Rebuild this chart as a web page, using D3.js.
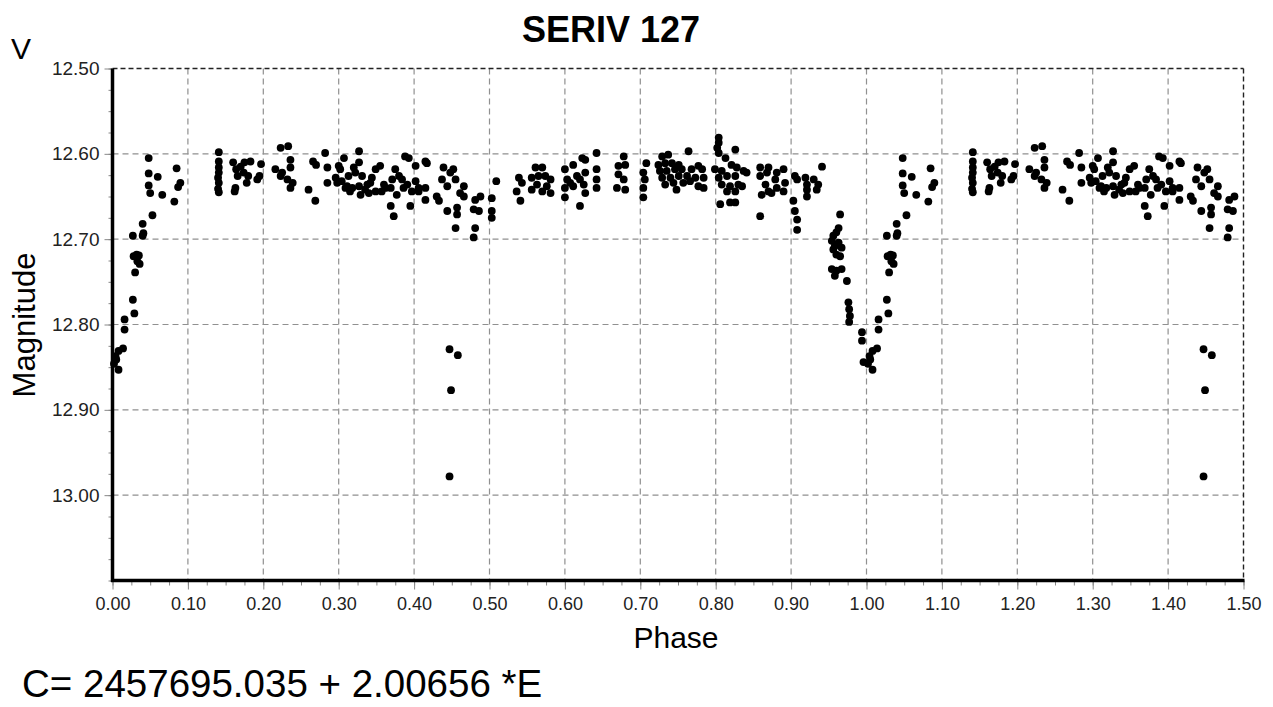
<!DOCTYPE html>
<html>
<head>
<meta charset="utf-8">
<script src="https://cdnjs.cloudflare.com/ajax/libs/d3/7.8.5/d3.min.js"></script>
<style>
  body { margin: 0; background: #fff; }
  svg { display: block; font-family: "Liberation Sans", Arial, sans-serif; }
</style>
</head>
<body>
<svg width="1273" height="707"></svg>
<script>
// observations, phase 0..1 : [phase, V mag]
const obs = [
  [0.004,12.837],[0.008,12.831],[0.014,12.828],[0.005,12.841],[0.008,12.853],[0.002,12.846],
  [0.016,12.794],[0.016,12.806],[0.027,12.771],[0.029,12.787],
  [0.027,12.696],[0.040,12.696],[0.041,12.693],[0.040,12.682],[0.053,12.672],
  [0.028,12.720],[0.032,12.718],[0.035,12.719],[0.033,12.726],[0.036,12.729],[0.030,12.739],
  [0.048,12.605],[0.048,12.623],[0.060,12.627],[0.048,12.637],[0.050,12.646],[0.066,12.648],
  [0.082,12.656],[0.085,12.617],[0.090,12.634],[0.087,12.639],
  [0.141,12.598],[0.141,12.609],[0.141,12.616],[0.141,12.622],[0.140,12.628],[0.141,12.634],[0.140,12.641],[0.141,12.645],
  [0.160,12.610],[0.164,12.618],[0.170,12.615],[0.175,12.610],[0.183,12.609],[0.197,12.612],[0.166,12.626],
  [0.174,12.622],[0.180,12.626],[0.195,12.626],[0.163,12.640],[0.178,12.634],[0.192,12.630],[0.162,12.644],
  [0.223,12.593],[0.233,12.591],[0.236,12.607],[0.216,12.618],[0.225,12.622],[0.236,12.616],[0.223,12.626],
  [0.232,12.630],[0.239,12.634],[0.236,12.640],
  [0.282,12.599],[0.266,12.609],[0.270,12.613],[0.260,12.642],[0.269,12.655],[0.285,12.616],[0.285,12.634],
  [0.327,12.597],[0.307,12.605],[0.300,12.614],[0.296,12.628],[0.304,12.632],[0.313,12.626],[0.322,12.622],
  [0.327,12.610],[0.331,12.626],[0.309,12.640],[0.318,12.640],[0.327,12.638],[0.329,12.648],[0.338,12.636],
  [0.344,12.628],[0.349,12.618],[0.355,12.614],[0.340,12.646],[0.349,12.644],[0.357,12.644],[0.362,12.640],
  [0.375,12.618],[0.371,12.630],[0.380,12.626],[0.384,12.630],[0.369,12.640],[0.377,12.648],[0.386,12.640],
  [0.391,12.636],[0.397,12.644],[0.402,12.632],[0.406,12.640],[0.388,12.603],[0.402,12.614],[0.415,12.609],
  [0.369,12.661],[0.395,12.661],[0.373,12.673],[0.415,12.640],[0.415,12.654],[0.360,12.636],[0.335,12.642],
  [0.302,12.618],[0.298,12.634],[0.311,12.638],[0.320,12.616],[0.315,12.644],[0.342,12.634],[0.393,12.605],
  [0.406,12.644],[0.417,12.611],
  [0.439,12.616],[0.452,12.618],[0.448,12.622],[0.437,12.630],[0.455,12.630],[0.444,12.638],[0.466,12.638],
  [0.433,12.655],[0.444,12.667],[0.457,12.663],[0.457,12.671],[0.455,12.687],[0.430,12.650],[0.466,12.650],
  [0.461,12.646],
  [0.447,12.829],[0.458,12.836],[0.449,12.877],[0.447,12.978],
  [0.481,12.654],[0.488,12.650],[0.479,12.665],[0.486,12.667],[0.481,12.687],[0.479,12.698],
  [0.503,12.652],[0.503,12.667],[0.503,12.675],[0.509,12.632],
  [0.539,12.628],[0.536,12.644],[0.541,12.655],[0.543,12.634],
  [0.561,12.616],[0.570,12.616],[0.556,12.628],[0.565,12.626],[0.574,12.626],[0.581,12.630],[0.556,12.642],
  [0.570,12.644],[0.581,12.646],[0.563,12.636],[0.576,12.638],
  [0.600,12.618],[0.603,12.630],[0.600,12.640],[0.600,12.651],[0.611,12.613],[0.616,12.626],[0.611,12.638],
  [0.620,12.630],[0.623,12.605],[0.627,12.607],[0.627,12.622],[0.625,12.636],[0.627,12.646],[0.620,12.661],
  [0.607,12.634],
  [0.642,12.599],[0.642,12.618],[0.642,12.630],[0.642,12.640],
  [0.678,12.603],[0.671,12.614],[0.680,12.613],[0.671,12.624],[0.678,12.630],[0.669,12.640],[0.680,12.642],
  [0.708,12.611],[0.704,12.622],[0.706,12.630],[0.704,12.640],[0.704,12.651],
  [0.729,12.603],[0.737,12.601],[0.764,12.597],[0.724,12.613],[0.733,12.611],[0.742,12.611],[0.751,12.613],
  [0.726,12.620],[0.735,12.620],[0.746,12.618],[0.755,12.618],[0.768,12.618],[0.777,12.614],[0.782,12.618],
  [0.729,12.628],[0.740,12.628],[0.751,12.626],[0.762,12.626],[0.773,12.628],[0.784,12.628],[0.733,12.636],
  [0.744,12.634],[0.757,12.634],[0.766,12.632],[0.777,12.638],[0.784,12.640],[0.748,12.642],
  [0.804,12.581],[0.804,12.587],[0.802,12.593],[0.804,12.599],[0.813,12.605],[0.826,12.595],[0.799,12.618],
  [0.808,12.620],[0.821,12.613],[0.828,12.616],[0.804,12.628],[0.815,12.626],[0.826,12.626],[0.837,12.620],
  [0.808,12.636],[0.819,12.638],[0.830,12.636],[0.815,12.644],[0.826,12.644],[0.835,12.638],[0.806,12.659],
  [0.819,12.657],[0.826,12.657],[0.841,12.622],
  [0.859,12.616],[0.870,12.616],[0.859,12.626],[0.868,12.622],[0.866,12.636],[0.861,12.648],[0.870,12.644],
  [0.879,12.630],[0.881,12.640],[0.890,12.618],[0.892,12.634],[0.890,12.644],[0.859,12.673],[0.881,12.622],
  [0.874,12.646],
  [0.905,12.626],[0.908,12.630],[0.903,12.655],[0.905,12.667],[0.908,12.677],[0.908,12.689],[0.919,12.628],
  [0.921,12.636],[0.921,12.650],[0.930,12.630],[0.934,12.642],[0.936,12.636],[0.941,12.615],[0.921,12.642],
  [0.965,12.671],[0.963,12.687],[0.960,12.692],[0.956,12.696],[0.954,12.702],[0.958,12.708],[0.956,12.712],
  [0.960,12.718],[0.965,12.720],[0.967,12.710],[0.963,12.704],[0.954,12.735],[0.960,12.737],[0.967,12.735],
  [0.958,12.743],[0.974,12.749],[0.976,12.774],[0.977,12.782],[0.978,12.790],[0.977,12.797],[0.994,12.809],
  [0.994,12.819],[0.996,12.844]
];

const xMajor = d3.range(0, 16).map(i => i / 10);          // 0.00 .. 1.50
const xMinor = d3.range(0, 61).map(i => i / 40);
const yMajor = [12.5, 12.6, 12.7, 12.8, 12.9, 13.0];
const yMinor = d3.range(0, 25).map(i => 12.5 + i * 0.025);
const title = "SERIV 127";
const ephemeris = "C= 2457695.035 + 2.00656 *E";

const svg = d3.select("svg");
const pLeft = 112.5, pRight = 1243.5, pTop = 68.5, pBottom = 580.5;

let x = d3.scaleLinear().domain([0, 1.5]).range([pLeft, pRight]);
let y = d3.scaleLinear().domain([12.5, 13.1]).range([pTop, pBottom]);

// fold: the 0..0.5 part is shown again after phase 1
let shown = obs.concat(obs.filter(d => d[0] + 1 <= 1.5).map(d => [d[0] + 1, d[1]]));

// grid
let grid = svg.append("g");
grid.selectAll("line.gx")
    .data(xMajor.filter(v => v > 0 && v < 1.5))
    .enter().append("line")
    .attr("x1", d => x(d)).attr("x2", d => x(d))
    .attr("y1", pTop).attr("y2", pBottom)
    .style("stroke", "#909090").style("stroke-width", 1.2).style("stroke-dasharray", "6,4");
grid.selectAll("line.gy")
    .data(yMajor.filter(v => v > 12.5))
    .enter().append("line")
    .attr("x1", pLeft).attr("x2", pRight)
    .attr("y1", d => y(d)).attr("y2", d => y(d))
    .style("stroke", "#909090").style("stroke-width", 1.2).style("stroke-dasharray", "6,4");
// top and right frame, dashed and dark
grid.append("line").attr("x1", pLeft).attr("x2", pRight).attr("y1", pTop).attr("y2", pTop)
    .style("stroke", "#222").style("stroke-width", 1.4).style("stroke-dasharray", "5,3");
grid.append("line").attr("x1", pRight).attr("x2", pRight).attr("y1", pTop).attr("y2", pBottom)
    .style("stroke", "#222").style("stroke-width", 1.4).style("stroke-dasharray", "5,3");

// axes
let xMinorAxis = svg.append("g").attr("transform", "translate(0," + pBottom + ")")
    .call(d3.axisBottom(x).tickValues(xMinor).tickSize(5).tickFormat(""));
let xAxis = svg.append("g").attr("transform", "translate(0," + pBottom + ")")
    .call(d3.axisBottom(x).tickValues(xMajor).tickSize(9).tickPadding(8).tickFormat(d3.format(".2f")));
let yMinorAxis = svg.append("g").attr("transform", "translate(" + pLeft + ",0)")
    .call(d3.axisLeft(y).tickValues(yMinor).tickSize(4).tickFormat(""));
let yAxis = svg.append("g").attr("transform", "translate(" + pLeft + ",0)")
    .call(d3.axisLeft(y).tickValues(yMajor).tickSize(8).tickPadding(5).tickFormat(d3.format(".2f")));

[xMinorAxis, xAxis, yMinorAxis, yAxis].forEach(a => {
    a.select(".domain").remove();
    a.selectAll(".tick line").style("stroke", "#888");
    a.selectAll("text").style("font-size", "18px").style("fill", "#222")
        .style("font-family", "'Liberation Sans', Arial, sans-serif");
});
yAxis.selectAll("text").style("font-size", "19px");

svg.append("line").attr("x1", pLeft).attr("x2", pLeft).attr("y1", pTop).attr("y2", pBottom + 1.5)
    .style("stroke", "#000").style("stroke-width", 3.5);
svg.append("line").attr("x1", pLeft - 1.5).attr("x2", pRight + 1).attr("y1", pBottom).attr("y2", pBottom)
    .style("stroke", "#000").style("stroke-width", 3.5);

// points
svg.append("g").selectAll("circle")
    .data(shown)
    .enter().append("circle")
    .attr("cx", d => x(d[0]))
    .attr("cy", d => y(d[1]))
    .attr("r", 3.9)
    .style("fill", "#000");

// texts
svg.append("text").attr("x", 611).attr("y", 42).attr("text-anchor", "middle")
    .style("font-size", "36px").style("font-weight", "bold").text(title);
svg.append("text").attr("x", 11).attr("y", 59).style("font-size", "30px").text("V");
svg.append("text").attr("transform", "translate(35,325) rotate(-90)").attr("text-anchor", "middle")
    .style("font-size", "31px").text("Magnitude");
svg.append("text").attr("x", 676).attr("y", 648).attr("text-anchor", "middle")
    .style("font-size", "30px").text("Phase");
svg.append("text").attr("x", 22).attr("y", 697).style("font-size", "38.5px").text(ephemeris);
</script>
</body>
</html>
